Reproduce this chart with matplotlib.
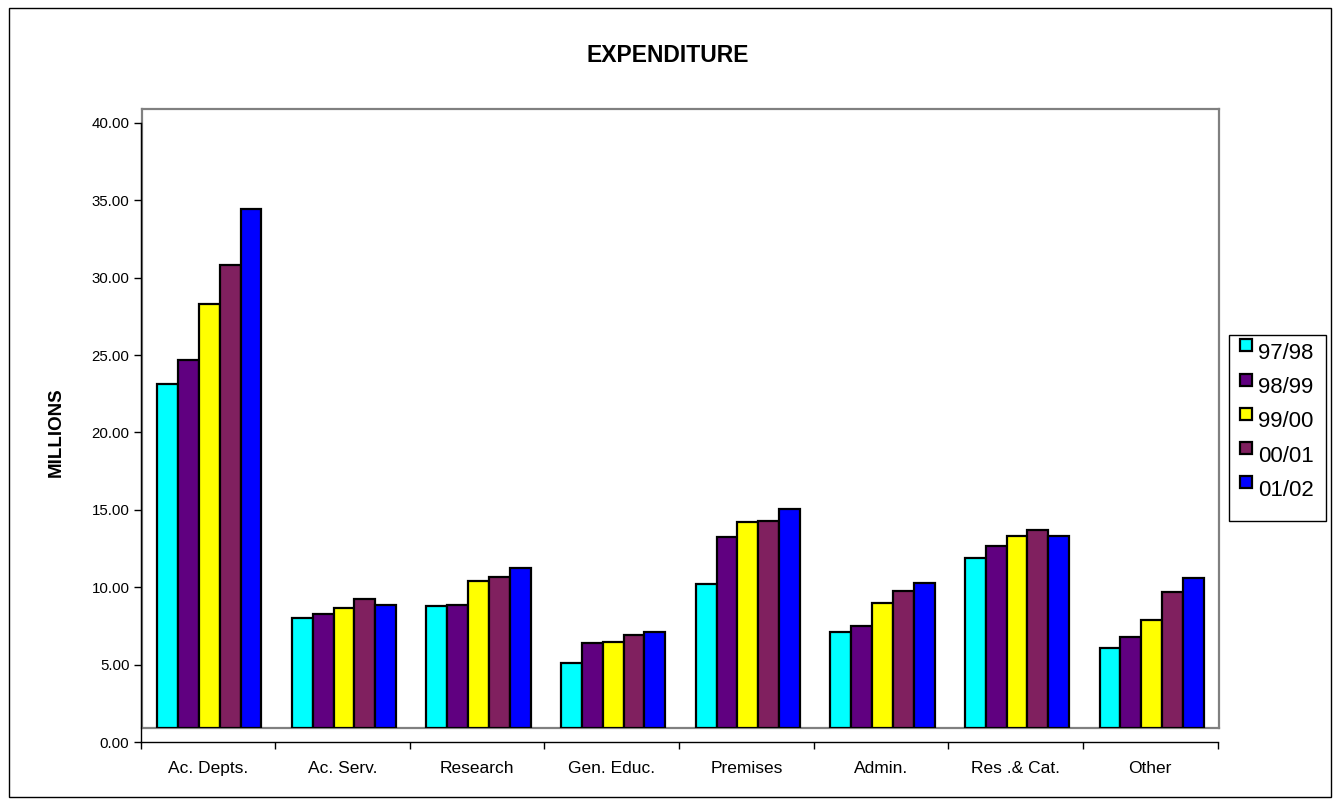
import matplotlib
matplotlib.use("Agg")
import matplotlib.pyplot as plt
from matplotlib.patches import Rectangle
import numpy as np

plt.rcParams['font.family'] = ['Liberation Sans', 'DejaVu Sans']

categories = ["Ac. Depts.", "Ac. Serv.", "Research", "Gen. Educ.", "Premises",
              "Admin.", "Res .& Cat.", "Other"]
years = ["97/98", "98/99", "99/00", "00/01", "01/02"]

exp_97_98 = [22.19, 7.07, 7.86, 4.20, 9.29, 6.18, 10.97, 5.18]
exp_98_99 = [23.77, 7.33, 7.93, 5.45, 12.30, 6.59, 11.77, 5.83]
exp_99_00 = [27.38, 7.75, 9.50, 5.52, 13.27, 8.04, 12.39, 6.93]
exp_00_01 = [29.90, 8.30, 9.74, 5.99, 13.36, 8.85, 12.78, 8.77]
exp_01_02 = [33.50, 7.93, 10.30, 6.16, 14.15, 9.37, 12.39, 9.67]

y_ticks = [0, 5, 10, 15, 20, 25, 30, 35, 40]

series = [exp_97_98, exp_98_99, exp_99_00, exp_00_01, exp_01_02]
colors = ["#00FFFF", "#600080", "#FFFF00", "#80205F", "#0000FF"]

W, H = 1337, 805
fig = plt.figure(figsize=(W / 100, H / 100), dpi=100)
fig.patch.set_facecolor("white")

def fx(px):
    return px / W

def fy(py):
    return (H - py) / H

# outer chart border
fig.patches.append(Rectangle((fx(8.5), fy(796.5)), fx(1330.5) - fx(8.5), fy(8.5) - fy(796.5),
                             transform=fig.transFigure, fill=False, edgecolor="black",
                             linewidth=1.0))

# plot frame geometry (pixels)
x0, x1 = 140.5, 1217.5
y_top, y_bot = 123.0, 742.0
dx, dy = 1.5, 14.3

# back wall axes: the bars stand on the floor of the wall
wall = fig.add_axes([fx(x0 + dx), fy(y_bot - dy), fx(x1) - fx(x0), fy(y_top) - fy(y_bot)])
wall.set_xlim(0, len(categories))
wall.set_ylim(0, 40)
wall.patch.set_alpha(0)
for side in ["left", "right", "top", "bottom"]:
    wall.spines[side].set_color("#808080")
    wall.spines[side].set_linewidth(1.6)
wall.set_xticks([])
wall.set_yticks([])

n = len(series)
bar_w = 0.155
xc = np.arange(len(categories)) + 0.5
for k, (vals, col) in enumerate(zip(series, colors)):
    wall.bar(xc + (k - (n - 1) / 2) * bar_w, vals, width=bar_w, color=col,
             edgecolor="black", linewidth=1.6, zorder=3)

# front axes carrying the scale and category ticks
front = fig.add_axes([fx(x0), fy(y_bot), fx(x1) - fx(x0), fy(y_top) - fy(y_bot)])
front.patch.set_alpha(0)
front.set_xlim(0, len(categories))
front.set_ylim(0, 40)
front.spines["top"].set_visible(False)
front.spines["right"].set_visible(False)
front.spines["left"].set_linewidth(1.0)
front.spines["bottom"].set_linewidth(1.0)
front.set_yticks(y_ticks)
front.set_yticklabels([f"{v:.2f}" for v in y_ticks], fontsize=10.8)
front.set_xticks(np.arange(len(categories) + 1))
front.set_xticklabels([])
front.set_xticks(xc, minor=True)
front.set_xticklabels(categories, minor=True, fontsize=12.5)
front.tick_params(axis="x", which="major", direction="out", length=5, width=1.0)
front.tick_params(axis="x", which="minor", length=0, pad=14)
front.tick_params(axis="y", direction="out", length=5, width=1.0, pad=3)
front.set_ylabel("MILLIONS", fontsize=13.5, fontweight="bold", labelpad=19)

fig.text(fx(668), fy(55), "EXPENDITURE", ha="center", va="center",
         fontsize=16.5, fontweight="bold")

# legend
lx0, ly0, lx1, ly1 = 1228.5, 334.5, 1325.5, 520.5
fig.patches.append(Rectangle((fx(lx0), fy(ly1)), fx(lx1) - fx(lx0), fy(ly0) - fy(ly1),
                             transform=fig.transFigure, fill=False, edgecolor="black",
                             linewidth=1.0))
for k, (lab, col) in enumerate(zip(years, colors)):
    my = 339.5 + k * 34.2
    fig.patches.append(Rectangle((fx(1240), fy(my + 12)), fx(1252) - fx(1240), fy(my) - fy(my + 12),
                                 transform=fig.transFigure, facecolor=col,
                                 edgecolor="black", linewidth=1.6))
    fig.text(fx(1258), fy(my + 14), lab, ha="left", va="center", fontsize=16)

fig.savefig("out.png", dpi=100)
